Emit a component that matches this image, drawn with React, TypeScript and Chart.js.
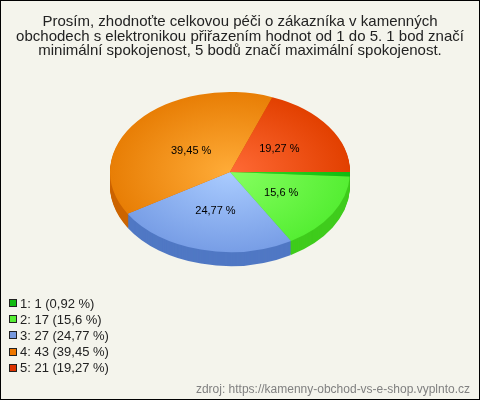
import React, { useEffect, useRef } from "react";
import { Chart, registerables } from "chart.js";
Chart.register(...registerables);

const categories = ["1", "2", "3", "4", "5"];
const counts = [1, 17, 27, 43, 21];
const percents = [0.92, 15.6, 24.77, 39.45, 19.27];
const titleLines = [
  "Prosím, zhodnoťte celkovou péči o zákazníka v kamenných",
  "obchodech s elektronikou přiřazením hodnot od 1 do 5. 1 bod značí",
  "minimální spokojenost, 5 bodů značí maximální spokojenost.",
];
const sourceText = "zdroj: https://kamenny-obchod-vs-e-shop.vyplnto.cz";

const topLight = ["#33dd22", "#86ff60", "#aaccff", "#ffac38", "#ff6a36"];
const topDark = ["#11bb11", "#55ee33", "#789ee6", "#e87e05", "#e24000"];
const sideColors = ["#119911", "#3fcc1c", "#5078c4", "#cc6400", "#c43800"];
const legendColors = ["#11bb11", "#55ee33", "#7799dd", "#ee7700", "#dd3300"];

const FONT = '"Liberation Sans", Arial, sans-serif';
const K = 80 / 120;
const DEPTH = 14;

const fmt = (p: number) => String(p).replace(".", ",") + " %";

const pie3d = {
  id: "pie3d",
  beforeDraw(chart: any) {
    const { ctx, width, height } = chart;
    ctx.save();
    ctx.fillStyle = "#f4f4ec";
    ctx.fillRect(0, 0, width, height);
    ctx.strokeStyle = "#000";
    ctx.lineWidth = 1;
    ctx.strokeRect(0.5, 0.5, width - 1, height - 1);
    // title
    ctx.fillStyle = "#222";
    ctx.font = `15px ${FONT}`;
    ctx.textAlign = "center";
    ctx.textBaseline = "alphabetic";
    titleLines.forEach((t, i) => ctx.fillText(t, width / 2, 26 + i * 14.5));
    // legend
    ctx.font = `13px ${FONT}`;
    ctx.textAlign = "left";
    ctx.textBaseline = "middle";
    categories.forEach((c, i) => {
      const y = 303 + i * 16.2;
      ctx.fillStyle = legendColors[i];
      ctx.fillRect(9.5, Math.round(y) - 3.5, 7, 7);
      ctx.strokeStyle = "#222";
      ctx.strokeRect(9.5, Math.round(y) - 3.5, 7, 7);
      ctx.fillStyle = "#222";
      ctx.fillText(`${c}: ${counts[i]} (${fmt(percents[i])})`, 20, y + 1);
    });
    // source
    ctx.font = `12px ${FONT}`;
    ctx.fillStyle = "#808080";
    ctx.textAlign = "right";
    ctx.fillText(sourceText, 470, 390);
    ctx.restore();
  },
  beforeDatasetsDraw(chart: any) {
    const ctx = chart.ctx;
    const meta = chart.getDatasetMeta(0);
    const a0 = meta.data[0];
    const cx = a0.x, cy = a0.y;
    for (let d = DEPTH; d >= 1; d--) {
      ctx.save();
      ctx.translate(cx, cy + d);
      ctx.scale(1, K);
      ctx.translate(-cx, -cy);
      meta.data.forEach((el: any, i: number) => {
        const o = el.options;
        el.options = Object.assign({}, o, { backgroundColor: sideColors[i], borderWidth: 0 });
        el.draw(ctx, chart.chartArea);
        el.options = o;
      });
      ctx.restore();
    }
    ctx.save();
    ctx.translate(cx, cy);
    ctx.scale(1, K);
    ctx.translate(-cx, -cy);
  },
  afterDatasetsDraw(chart: any) {
    const ctx = chart.ctx;
    ctx.restore();
    const meta = chart.getDatasetMeta(0);
    ctx.save();
    ctx.font = `11px ${FONT}`;
    ctx.fillStyle = "#000";
    ctx.textAlign = "center";
    ctx.textBaseline = "middle";
    meta.data.forEach((el: any, i: number) => {
      if (percents[i] < 3) return;
      const mid = (el.startAngle + el.endAngle) / 2;
      const r = el.outerRadius * (percents[i] > 30 ? 0.42 : 0.5);
      const x = el.x + r * Math.cos(mid);
      const y = el.y + r * Math.sin(mid) * K;
      ctx.fillText(fmt(percents[i]), x, y);
    });
    ctx.restore();
  },
};

export default function App() {
  const ref = useRef<HTMLCanvasElement>(null);
  useEffect(() => {
    document.body.style.margin = "0";
    const chart = new Chart(ref.current!, {
      type: "pie",
      data: {
        labels: categories,
        datasets: [
          {
            data: counts,
            borderWidth: 0,
            clip: false as any,
            backgroundColor: (c: any) => {
              const ch = c.chart;
              const area = ch.chartArea;
              if (!area) return topDark[c.dataIndex];
              const cx = (area.left + area.right) / 2;
              const cy = (area.top + area.bottom) / 2;
              const g = ch.ctx.createRadialGradient(cx, cy, 0, cx, cy, 120);
              g.addColorStop(0, topLight[c.dataIndex]);
              g.addColorStop(1, topDark[c.dataIndex]);
              return g;
            },
          },
        ],
      },
      options: {
        responsive: false,
        animation: false,
        rotation: 90,
        layout: { padding: { left: 110, right: 130, top: 52, bottom: 108 } },
        plugins: { legend: { display: false }, title: { display: false }, tooltip: { enabled: false } },
      },
      plugins: [pie3d],
    });
    return () => chart.destroy();
  }, []);
  return <canvas ref={ref} width={480} height={400} style={{ display: "block" }} />;
}
